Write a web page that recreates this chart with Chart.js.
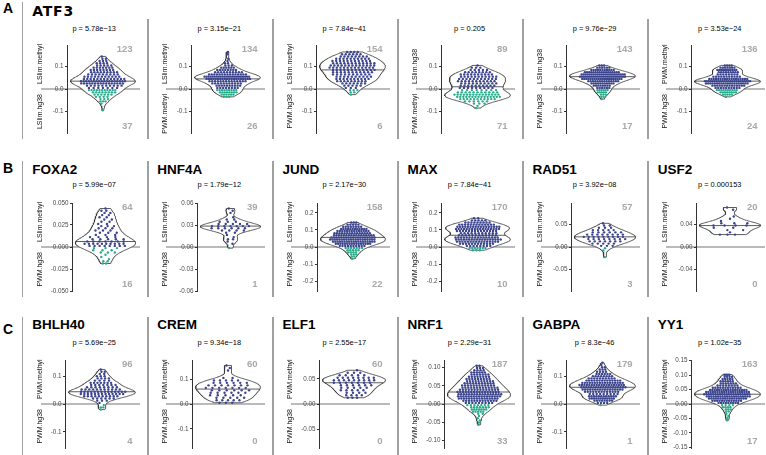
<!DOCTYPE html>
<html>
<head>
<meta charset="utf-8">
<title>Methylation violins</title>
<script src="https://cdn.jsdelivr.net/npm/chart.js@4.4.1/dist/chart.umd.min.js"></script>
<style>
  body { margin: 0; background: #fff; }
  #fig { position: relative; width: 766px; height: 455px; overflow: hidden; font-family: "Liberation Sans", Arial, sans-serif; color: #000; }
  #fig div, #fig canvas { position: absolute; }
  .sep { width: 1.5px; background: #a0a0a0; }
  .letter { font-size: 14px; font-weight: bold; line-height: 14px; }
  .title { font-size: 13.5px; font-weight: bold; line-height: 14px; white-space: nowrap; }
  .pval { font-size: 7.4px; line-height: 8px; color: #000; white-space: nowrap; transform: translateX(-50%); }
</style>
</head>
<body>
<div id="fig"></div>
<script>
// ---- data (18 panels, row by row) ----
const rowLetters = ["A", "B", "C"];
const panelTitles = ["ATF3", "", "", "", "", "",
  "FOXA2", "HNF4A", "JUND", "MAX", "RAD51", "USF2",
  "BHLH40", "CREM", "ELF1", "NRF1", "GABPA", "YY1"];
const upperLabels = ["LSlim.methyl", "LSlim.methyl", "LSlim.methyl", "LSlim.hg38", "LSlim.hg38", "PWM.methyl",
  "LSlim.methyl", "LSlim.methyl", "LSlim.methyl", "LSlim.methyl", "LSlim.methyl", "LSlim.methyl",
  "PWM.methyl", "PWM.methyl", "PWM.methyl", "PWM.methyl", "PWM.methyl", "PWM.methyl"];
const lowerLabels = ["LSlim.hg38", "PWM.methyl", "PWM.hg38", "PWM.methyl", "PWM.hg38", "PWM.hg38",
  "PWM.hg38", "PWM.hg38", "PWM.hg38", "PWM.hg38", "PWM.hg38", "PWM.hg38",
  "PWM.hg38", "PWM.hg38", "PWM.hg38", "PWM.hg38", "PWM.hg38", "PWM.hg38"];
const pValues = ["5.78e−13", "3.15e−21", "7.84e−41", "0.205", "9.76e−29", "3.53e−24",
  "5.99e−07", "1.79e−12", "2.17e−30", "7.84e−41", "3.92e−08", "0.000153",
  "5.69e−25", "9.34e−18", "2.55e−17", "2.29e−31", "8.3e−46", "1.02e−35"];

// symmetric y limits and tick values
const yLimits = [0.196, 0.196, 0.196, 0.196, 0.196, 0.196,
  0.05, 0.06, 0.258, 0.258, 0.0975, 0.078,
  0.158, 0.177, 0.088, 0.121, 0.158, 0.152];
const yTicks = [
  [-0.1, 0, 0.1], [-0.1, 0, 0.1], [-0.1, 0, 0.1], [-0.1, 0, 0.1], [-0.1, 0, 0.1], [-0.1, 0, 0.1],
  [-0.05, -0.025, 0, 0.025, 0.05], [-0.06, -0.03, 0, 0.03, 0.06], [-0.2, -0.1, 0, 0.1, 0.2],
  [-0.2, -0.1, 0, 0.1, 0.2], [-0.05, 0, 0.05], [-0.04, 0, 0.04],
  [-0.1, 0, 0.1], [-0.1, 0, 0.1], [-0.05, 0, 0.05], [-0.1, -0.05, 0, 0.05, 0.1], [-0.1, 0, 0.1],
  [-0.15, -0.1, -0.05, 0, 0.05, 0.1, 0.15]];
const tickDecimals = [1, 1, 1, 1, 1, 1, 3, 2, 1, 1, 2, 2, 1, 1, 2, 2, 1, 2];

// point values read as histograms: bin width, lowest bin centre, number of points per bin
const binSteps = [0.01, 0.01, 0.01, 0.01, 0.01, 0.01,
  0.0025, 0.003, 0.0125, 0.0125, 0.005, 0.004,
  0.008, 0.01, 0.005, 0.006, 0.008, 0.0075];
const firstBins = [-0.095, -0.035, -0.025, -0.085, -0.045, -0.035,
  -0.01875, -0.0015, -0.06875, -0.01875, -0.0225, 0.022,
  -0.020, 0.005, 0.0125, -0.057, -0.004, -0.05625];
const binCounts = [
  [1, 0, 0, 1, 3, 3, 4, 6, 8, 11, 7, 10, 16, 18, 13, 11, 9, 9, 8, 7, 5, 4, 3, 2, 1],
  [3, 6, 8, 9, 8, 10, 11, 14, 20, 23, 15, 10, 8, 6, 3, 2, 1, 1, 0, 1, 1],
  [1, 2, 3, 3, 5, 7, 9, 10, 10, 10, 11, 12, 13, 13, 12, 11, 10, 8, 6, 4],
  [1, 1, 3, 6, 11, 15, 15, 11, 8, 9, 10, 10, 11, 11, 11, 10, 8, 5, 3, 1],
  [1, 2, 3, 5, 6, 6, 8, 11, 14, 20, 24, 23, 17, 11, 6, 3],
  [1, 5, 8, 10, 10, 14, 20, 24, 18, 11, 8, 9, 11, 7, 4],
  [2, 2, 1, 1, 1, 3, 3, 3, 8, 10, 7, 5, 4, 3, 3, 3, 3, 3, 2, 2, 2, 2, 2, 2, 2, 1],
  [1, 0, 1, 1, 2, 1, 1, 2, 4, 6, 7, 5, 3, 2, 1, 0, 1, 1, 1],
  [1, 2, 3, 4, 5, 7, 10, 16, 19, 20, 19, 17, 15, 14, 12, 8, 5, 3],
  [3, 7, 8, 12, 16, 18, 16, 12, 11, 14, 17, 17, 13, 9, 5, 2],
  [1, 0, 0, 1, 1, 3, 5, 7, 8, 9, 8, 6, 5, 3, 2, 1],
  [3, 1, 2, 2, 4, 3, 1, 1, 1, 0, 0, 1, 1],
  [1, 2, 1, 1, 3, 6, 10, 13, 14, 11, 8, 7, 7, 4, 4, 3, 2, 2, 1],
  [3, 5, 5, 5, 6, 6, 7, 7, 6, 5, 2, 0, 0, 1, 1, 1],
  [3, 4, 4, 5, 5, 6, 7, 9, 8, 5, 3, 1],
  [1, 1, 1, 1, 1, 2, 5, 7, 7, 7, 9, 13, 16, 17, 17, 16, 14, 13, 12, 11, 10, 9, 8, 7, 6, 4, 3, 2],
  [1, 4, 8, 12, 12, 9, 13, 17, 19, 19, 17, 14, 10, 8, 6, 4, 3, 2, 1, 1],
  [1, 1, 1, 1, 2, 3, 4, 4, 9, 13, 17, 20, 21, 20, 17, 12, 8, 7, 6, 5, 4, 4]];

// ---- layout ----
const fig = document.getElementById("fig");
const blue = "#3b448c";
const teal = "#29ab8a";
const rowZero = [89.3, 246.7, 404.3];
const halfHeight = 44;
const axisOffsets = [44, 43, 43, 43, 43, 43, 49, 49, 44, 43, 48, 48, 42, 44, 46, 46, 43, 43];
const sepTop = [19, 161, 317];
const sepBottom = [139, 297, 455];
const pY = [29.3, 185, 343.3];
const titleY = [10.5, 170, 324.7];
const letterY = [8.3, 168.3, 328.7];
const spread = 0.72;

Chart.defaults.font.family = '"Liberation Sans", Arial, sans-serif';

function addDiv(cls, text, left, top, extra) {
  const d = document.createElement("div");
  d.className = cls;
  d.textContent = text;
  d.style.left = left + "px";
  d.style.top = top + "px";
  if (extra) Object.assign(d.style, extra);
  fig.appendChild(d);
  return d;
}

function expand(step, first, counts) {
  const vals = [];
  counts.forEach((n, i) => {
    const v = +(first + i * step).toFixed(6);
    for (let k = 0; k < n; k++) vals.push(v);
  });
  return vals;
}

function quantile(sorted, q) {
  const h = (sorted.length - 1) * q;
  const lo = Math.floor(h);
  const hi = Math.min(lo + 1, sorted.length - 1);
  return sorted[lo] + (h - lo) * (sorted[hi] - sorted[lo]);
}

function bwNrd0(sorted) {
  const n = sorted.length;
  const mean = sorted.reduce((a, b) => a + b, 0) / n;
  const sd = Math.sqrt(sorted.reduce((a, b) => a + (b - mean) ** 2, 0) / (n - 1));
  const iqr = quantile(sorted, 0.75) - quantile(sorted, 0.25);
  const lo = Math.min(sd, iqr / 1.34) || sd || Math.abs(sorted[0]) || 1;
  return 0.9 * lo * Math.pow(n, -0.2);
}

function kde(sorted, bw, y) {
  let s = 0;
  for (const v of sorted) s += Math.exp(-0.5 * ((y - v) / bw) ** 2);
  return s;
}

// each row of equal values is spread over part of the violin width at that height
function layoutRows(step, first, counts, halfAt) {
  const pts = [];
  counts.forEach((n, i) => {
    if (!n) return;
    const y = +(first + i * step).toFixed(6);
    const s = spread * halfAt(y);
    const gap = 2 * s / n;
    const shift = ((i % 3) - 1) * gap / 3;
    for (let j = 0; j < n; j++) pts.push({ x: -s + (j + 0.5) * gap + shift, y: y });
  });
  return pts;
}

const panelDecor = {
  id: "panelDecor",
  beforeDraw(chart, args, o) {
    const { ctx, chartArea, scales } = chart;
    const y0 = scales.y.getPixelForValue(0);
    ctx.save();
    ctx.strokeStyle = "#a3a3a3";
    ctx.lineWidth = 1.4;
    ctx.beginPath();
    ctx.moveTo(16, y0);
    ctx.lineTo(chartArea.right + 1, y0);
    ctx.stroke();
    ctx.restore();
  },
  afterDraw(chart, args, o) {
    const { ctx, chartArea, scales } = chart;
    const y0 = scales.y.getPixelForValue(0);
    ctx.save();
    ctx.fillStyle = "#111";
    ctx.font = '7px "Liberation Sans", Arial, sans-serif';
    ctx.textBaseline = "middle";
    ctx.translate(15, y0);
    ctx.rotate(-Math.PI / 2);
    ctx.textAlign = "left";
    ctx.fillText(o.upper, 5, 0);
    ctx.textAlign = "right";
    ctx.fillText(o.lower, -5, 0);
    ctx.restore();

    ctx.save();
    ctx.fillStyle = "#a9a9a9";
    ctx.font = 'bold 9.5px "Liberation Sans", Arial, sans-serif';
    ctx.textAlign = "right";
    ctx.textBaseline = "middle";
    ctx.fillText(String(o.nUp), chartArea.right - 6.5, chartArea.top + 4.5);
    ctx.fillText(String(o.nDown), chartArea.right - 6.5, chartArea.bottom - 7);
    ctx.restore();
  }
};

rowLetters.forEach((t, r) => addDiv("letter", t, 3, letterY[r] - 7));

for (let p = 0; p < 18; p++) {
  const row = Math.floor(p / 6);
  const col = p % 6;
  const sep = 22.7 + 125.1 * col;

  const top = p === 0 ? 2 : sepTop[row];
  addDiv("sep", "", sep - 0.75, top, { height: (sepBottom[row] - top) + "px" });
  if (panelTitles[p]) {
    const extra = p === 0 ? { fontFamily: '"DejaVu Sans", sans-serif', fontSize: "14px", letterSpacing: "0.8px" } : null;
    addDiv("title", panelTitles[p], sep + 9.5, titleY[row] - 7, extra);
  }
  addDiv("pval", "p = " + pValues[p], sep + 71.5, pY[row] - 4);

  const values = expand(binSteps[p], firstBins[p], binCounts[p]).sort((a, b) => a - b);
  const bw = bwNrd0(values);
  const lo = values[0];
  const hi = values[values.length - 1];
  const grid = [];
  for (let k = 0; k <= 120; k++) grid.push(lo + (hi - lo) * k / 120);
  const dens = grid.map(y => kde(values, bw, y));
  const dMax = Math.max(...dens);
  const plotW = 117 - axisOffsets[p];
  const maxHalf = 0.45 * plotW;
  const halfAt = y => kde(values, bw, y) / dMax * maxHalf;
  const side = grid.map((y, k) => ({ x: dens[k] / dMax * maxHalf, y: y }));
  const violin = side.concat(side.slice().reverse().map(pt => ({ x: -pt.x, y: pt.y })));
  violin.push(violin[0]);
  const med = quantile(values, 0.5);
  const medHalf = halfAt(med);

  const pts = layoutRows(binSteps[p], firstBins[p], binCounts[p], halfAt);
  const colors = pts.map(pt => (pt.y > 0 ? blue : teal));
  const nUp = values.filter(v => v > 0).length;
  const nDown = values.filter(v => v < 0).length;

  const canvas = document.createElement("canvas");
  const cw = 118;
  const ch = 2 * halfHeight + 12;
  canvas.width = cw;
  canvas.height = ch;
  canvas.style.width = cw + "px";
  canvas.style.height = ch + "px";
  canvas.style.left = (sep + 2) + "px";
  canvas.style.top = (rowZero[row] - halfHeight - 6) + "px";
  fig.appendChild(canvas);

  const L = yLimits[p];
  const dec = tickDecimals[p];
  const ticks = yTicks[p];
  const axisW = axisOffsets[p] - 2;

  new Chart(canvas.getContext("2d"), {
    type: "scatter",
    data: {
      datasets: [
        { type: "scatter", data: pts, backgroundColor: colors, borderWidth: 0, pointRadius: 1.2, order: 1 },
        { type: "line", data: [{ x: -medHalf, y: med }, { x: medHalf, y: med }], borderColor: "#333",
          borderWidth: 0.8, pointRadius: 0, fill: false, order: 2 },
        { type: "line", data: violin, borderColor: "#333", borderWidth: 0.8, pointRadius: 0,
          backgroundColor: "#ffffff", fill: "shape", tension: 0, order: 3 }
      ]
    },
    options: {
      responsive: false,
      animation: false,
      devicePixelRatio: 1,
      events: [],
      layout: { padding: { left: 0, right: 3, top: 6, bottom: 6 } },
      plugins: {
        legend: { display: false },
        tooltip: { enabled: false },
        panelDecor: { upper: upperLabels[p], lower: lowerLabels[p], nUp: nUp, nDown: nDown }
      },
      scales: {
        x: { type: "linear", display: false, min: -plotW / 2, max: plotW / 2 },
        y: {
          type: "linear",
          position: "left",
          min: -L,
          max: L,
          bounds: "data",
          afterBuildTicks: s => { s.ticks = ticks.map(v => ({ value: v })); },
          afterFit: s => { s.width = axisW; },
          border: { display: true, color: "#333", width: 1 },
          grid: { drawOnChartArea: false, drawTicks: true, tickLength: 2, color: "#333" },
          ticks: { padding: 1.5, color: "#4d4d4d", font: { size: 6.3 },
            callback: v => Number(v).toFixed(dec) }
        }
      }
    },
    plugins: [panelDecor]
  });
}
</script>
</body>
</html>
